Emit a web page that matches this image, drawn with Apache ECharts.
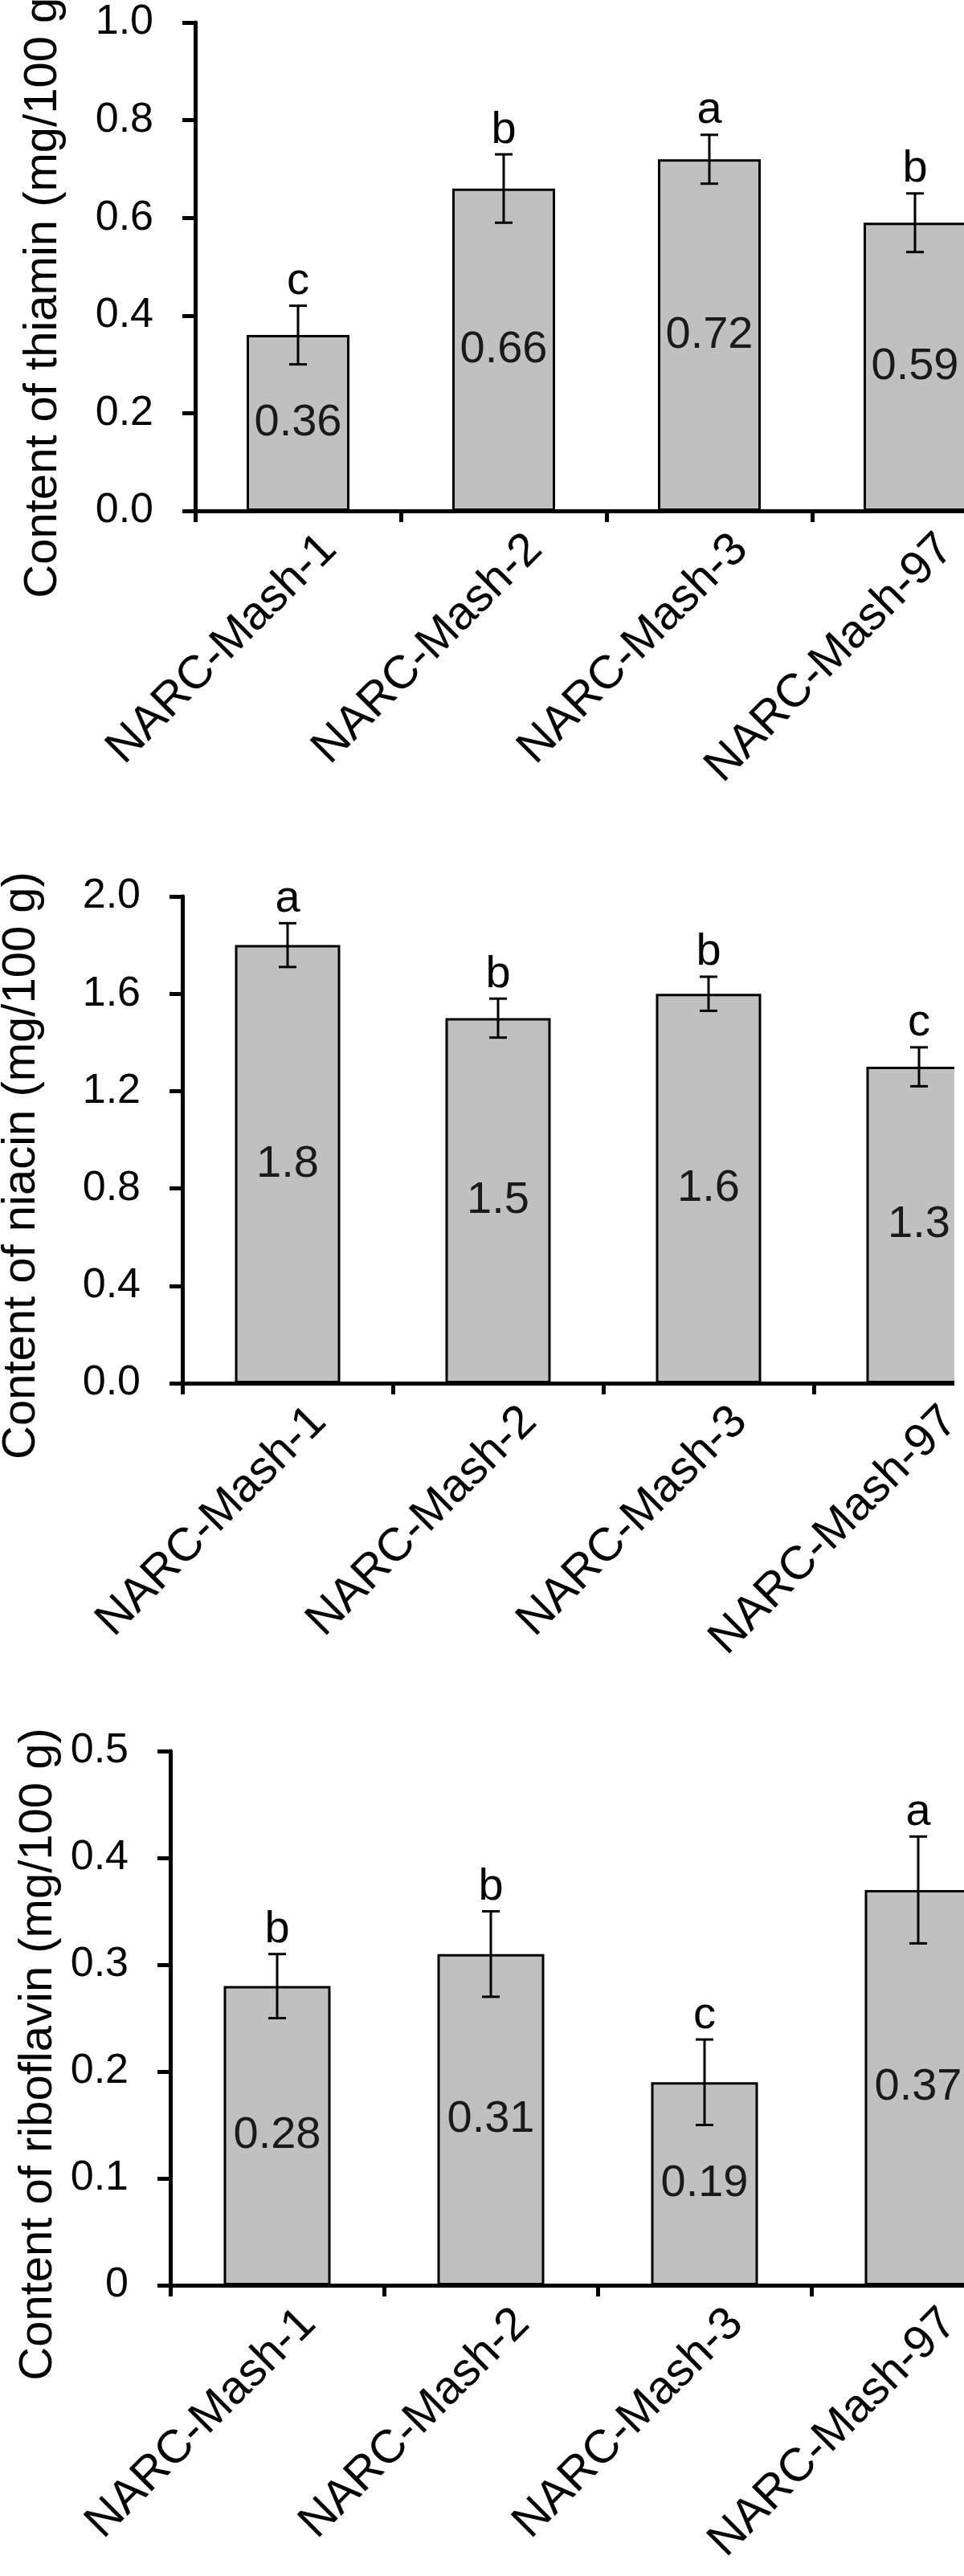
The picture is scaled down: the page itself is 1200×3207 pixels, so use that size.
<!DOCTYPE html>
<html>
<head>
<meta charset="utf-8">
<title>Vitamin content of NARC-Mash varieties</title>
<script src="https://cdn.jsdelivr.net/npm/echarts@6/dist/echarts.min.js"></script>
<style>
  html, body { margin: 0; padding: 0; background: #fff; overflow: hidden; width: 1200px; }
  /* 画布比窗口宽一些，右侧第四根柱子被裁掉，和原图一致 */
  #chart { width: 1300px; height: 3207px; }
</style>
</head>
<body>
<div id="chart"></div>
<script>
// 品种
const categories = ['NARC-Mash-1', 'NARC-Mash-2', 'NARC-Mash-3', 'NARC-Mash-97']

// thiamin
const thiamin = [0.36, 0.66, 0.72, 0.59]
const thiaminErr = [0.06, 0.07, 0.05, 0.06]
const thiaminLetters = ['c', 'b', 'a', 'b']
const thiaminTicks = ['0.0', '0.2', '0.4', '0.6', '0.8', '1.0']

// niacin
const niacin = [1.8, 1.5, 1.6, 1.3]
const niacinErr = [0.09, 0.08, 0.07, 0.08]
const niacinLetters = ['a', 'b', 'b', 'c']
const niacinTicks = ['0.0', '0.4', '0.8', '1.2', '1.6', '2.0']

// riboflavin
const riboflavin = [0.28, 0.31, 0.19, 0.37]
const riboflavinErr = [0.03, 0.04, 0.04, 0.05]
const riboflavinLetters = ['b', 'b', 'c', 'a']
const riboflavinTicks = ['0', '0.1', '0.2', '0.3', '0.4', '0.5']

const FONT = '"Liberation Sans", Arial, sans-serif'

const panels = [
  { name: 'Content of thiamin (mg/100 g)', values: thiamin, errs: thiaminErr, letters: thiaminLetters, ticks: thiaminTicks, max: 1.0, interval: 0.2,
    grid: { left: 243, top: 28, height: 608, width: 1024 }, nameGap: 160, shift: 29 },
  { name: 'Content of niacin (mg/100 g)', values: niacin, errs: niacinErr, letters: niacinLetters, ticks: niacinTicks, max: 2.0, interval: 0.4,
    grid: { left: 227, top: 1116, height: 606, width: 1048 }, nameGap: 171, shift: 32 },
  { name: 'Content of riboflavin (mg/100 g)', values: riboflavin, errs: riboflavinErr, letters: riboflavinLetters, ticks: riboflavinTicks, max: 0.5, interval: 0.1,
    grid: { left: 212, top: 2180, height: 665, width: 1064 }, nameGap: 131, shift: 45 }
]

const axisLineStyle = { color: '#000', width: 5 }

function errorRenderer (letters) {
  return function (params, api) {
    const x = api.value(0)
    const v = api.value(1)
    const e = api.value(2)
    const top = api.coord([x, v + e])
    const bot = api.coord([x, v - e])
    const cap = 11
    const ls = { stroke: '#000', lineWidth: 3 }
    return {
      type: 'group',
      children: [
        { type: 'line', shape: { x1: top[0], y1: top[1], x2: bot[0], y2: bot[1] }, style: ls },
        { type: 'line', shape: { x1: top[0] - cap, y1: top[1], x2: top[0] + cap, y2: top[1] }, style: ls },
        { type: 'line', shape: { x1: bot[0] - cap, y1: bot[1], x2: bot[0] + cap, y2: bot[1] }, style: ls },
        {
          type: 'text',
          x: top[0],
          y: top[1] - 2,
          style: {
            text: letters[params.dataIndex],
            fill: '#000',
            fontSize: 56,
            fontFamily: FONT,
            align: 'center',
            verticalAlign: 'bottom'
          }
        }
      ]
    }
  }
}

const chart = echarts.init(document.getElementById('chart'), null, { renderer: 'canvas' })

const option = {
  animation: false,
  backgroundColor: '#fff',
  // 不让 ECharts 为了装下标签去缩小绘图区
  grid: panels.map(p => Object.assign({ containLabel: false, outerBoundsMode: 'none' }, p.grid)),
  xAxis: panels.map((p, i) => ({
    gridIndex: i,
    type: 'category',
    data: categories,
    axisLine: { show: true, lineStyle: axisLineStyle },
    axisTick: { show: true, length: 14, lineStyle: axisLineStyle },
    splitLine: { show: false },
    axisLabel: {
      rotate: 45,
      interval: 0,
      margin: 0,
      fontSize: 58,
      lineHeight: 110,
      verticalAlign: 'top',
      color: '#000',
      fontFamily: FONT
    }
  })),
  yAxis: panels.map((p, i) => ({
    gridIndex: i,
    type: 'value',
    min: 0,
    max: p.max,
    interval: p.interval,
    axisLine: { show: true, lineStyle: axisLineStyle },
    axisTick: { show: true, length: 16, lineStyle: axisLineStyle },
    splitLine: { show: false },
    axisLabel: {
      margin: 52,
      fontSize: 52,
      color: '#000',
      fontFamily: FONT,
      formatter: v => p.ticks[Math.round(v / p.interval)]
    },
    // 末尾加一段空白，让竖排标题整体往下挪一点
    name: p.name + '{sp|}',
    nameLocation: 'middle',
    nameGap: p.nameGap,
    nameTextStyle: {
      fontSize: 58,
      color: '#000',
      fontFamily: FONT,
      rich: {
        sp: { width: p.shift * 2 }
      }
    }
  })),
  series: [],
  graphic: [
    // 原图中间那张图右侧少了一截
    { type: 'rect', left: 1188, top: 1060, shape: { width: 120, height: 700 }, style: { fill: '#fff' }, z: 100 }
  ]
}

panels.forEach((p, i) => {
  option.series.push({
    type: 'bar',
    xAxisIndex: i,
    yAxisIndex: i,
    data: p.values,
    barWidth: '50%',
    itemStyle: { color: '#c0c0c0', borderColor: '#000', borderWidth: 3 },
    label: {
      show: true,
      position: 'inside',
      fontSize: 56,
      color: '#1a1a1a',
      fontFamily: FONT,
      formatter: d => String(d.value)
    }
  })
  option.series.push({
    type: 'custom',
    xAxisIndex: i,
    yAxisIndex: i,
    renderItem: errorRenderer(p.letters),
    data: p.values.map((v, j) => [j, v, p.errs[j]]),
    z: 5
  })
})

chart.setOption(option)
</script>
</body>
</html>
